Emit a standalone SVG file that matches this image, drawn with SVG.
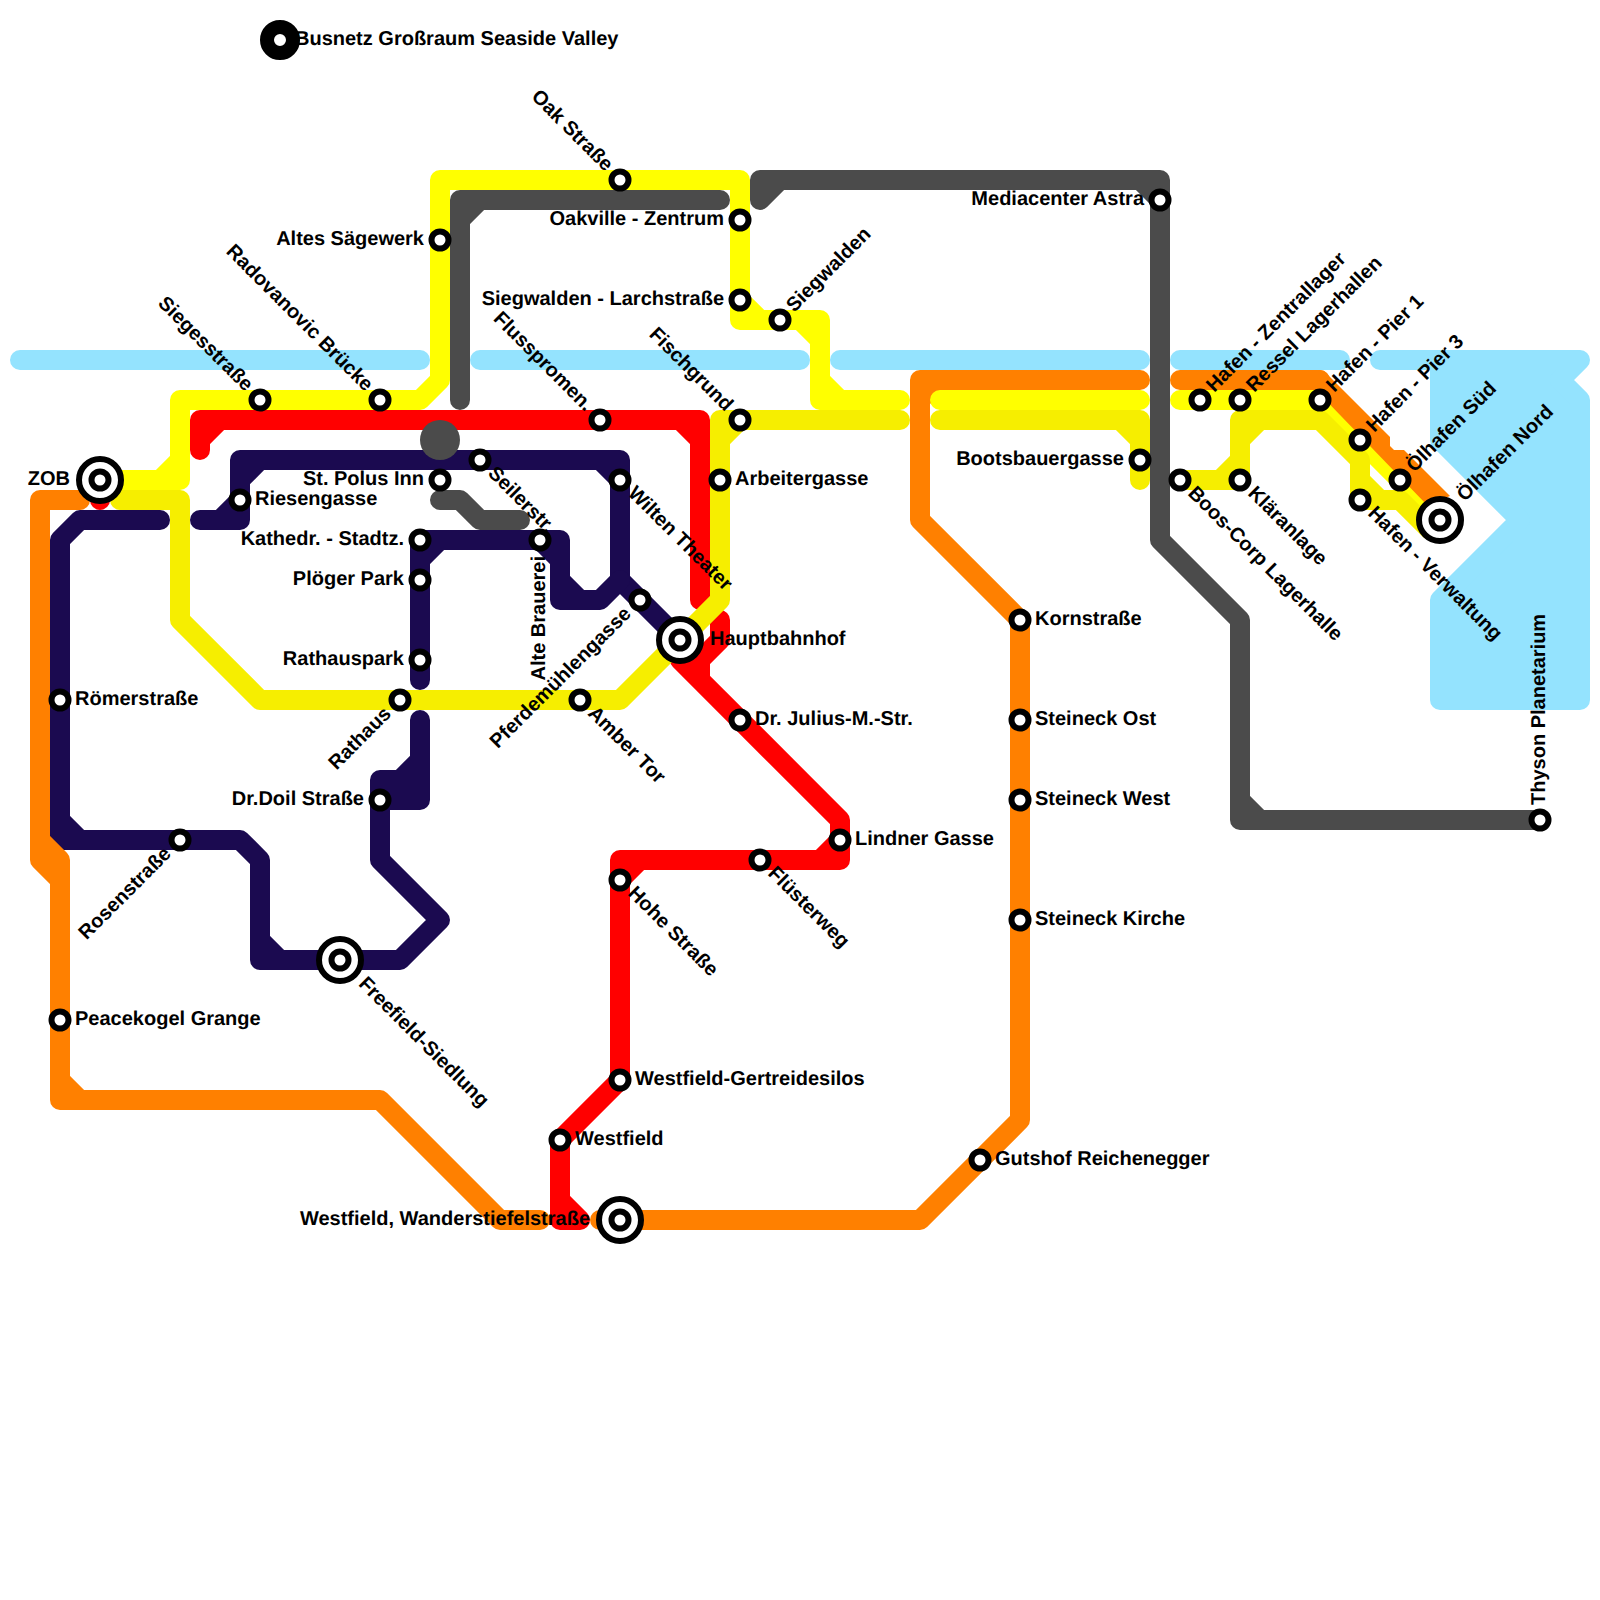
<svg xmlns="http://www.w3.org/2000/svg" width="1600" height="1600" viewBox="0 0 1600 1600">
<style>
.l{fill:none;stroke-width:20;stroke-linecap:round;stroke-linejoin:round}
.w{stroke:#94e3fe}.o{stroke:#ff8000}.r{stroke:#f00}.n{stroke:#1b0a50}.y{stroke:#ff0}.v{stroke:#f6ee00}.g{stroke:#4b4b4b}
.wf{fill:#94e3fe;stroke:#94e3fe;stroke-width:20;stroke-linejoin:round}
.s{fill:#fff;stroke:#000;stroke-width:6}
text{font-family:"Liberation Sans",Arial,sans-serif;font-weight:bold;font-size:20px;fill:#000;text-rendering:geometricPrecision}
.e{text-anchor:end}
</style>
<rect width="1600" height="1600" fill="#fff"/>
<g id="water">
<path class="l w" d="M20 360H420M480 360H800M840 360H1140M1180 360H1340M1380 360H1440"/>
<path class="wf" d="M1440 360H1580L1560 380L1580 400V700H1440V600L1520 520L1440 440Z"/>
</g>
<g id="connectors">
<path class="l r" d="M100 480V500"/>
<path class="l n" d="M160 520H80L60 540V840H240L260 860V960H400L440 920L380 860V780H400L420 760V720V800H380M60 820L80 840M260 940L280 960M400 780H420"/>
<path class="l n" d="M200 520H240V460H620V580L680 640M240 480L260 460M220 520L240 500M600 460L620 480"/>
<path class="l n" d="M420 680V540H560V600H600L620 580M420 560L440 540M540 540L560 560M560 580L580 600"/>
<path class="l o" d="M80 500H40V860L60 880V1100H380L500 1220H540M40 840L60 860V880M60 1080L80 1100"/>
<path class="l o" d="M600 1220H920L1020 1120V620L920 520V380H1140M920 400L940 380"/>
<path class="l o" d="M1180 380H1320"/>
<path class="l r" d="M200 450V420H700V600M200 440L220 420M680 420L700 440"/>
<path class="l r" d="M720 620V640L700 660V680M680 660H700M680 660L840 820V860H620V1080L560 1140V1220H580M820 860L840 840M620 880L640 860M560 1200L580 1220"/>
<path class="l y" d="M100 480H180V400H420L440 380V180H740V320H820V400H900M160 480L180 460M740 300L760 320M800 320L820 340M820 380L840 400"/>
<path class="l y" d="M940 400H1140M1180 400H1320L1440 520"/>
<path fill="#ff8000" d="M1320 370L1324 371L1390 437V446L1394 450H1404L1450 496L1430 504H1426L1313 387Z"/>
<path class="l v" d="M120 500H180V620L260 700H620L720 600V420H900M720 440L740 420"/>
<path class="l v" d="M940 420H1140V480M1120 420L1140 440"/>
<path class="l v" d="M1180 480H1240V420H1320L1360 460V500H1400L1430 530M1220 480L1240 460M1240 440L1260 420M1360 480L1380 500"/>
<path class="l g" d="M460 400V200H720M460 220L480 200"/>
<path class="l g" d="M760 200V180H1160V540L1240 620V820H1540M760 200L780 180M1140 180L1160 200M1240 800L1260 820"/>
<path class="l g" d="M440 500H460L480 520H520"/>
<circle cx="440" cy="440" r="20" fill="#4b4b4b"/>
</g>
<g id="nodes">
<g id="n01"><circle cx="280" cy="40" r="13" fill="#fff" stroke="#000" stroke-width="14"/><text x="295" y="45">Busnetz Großraum Seaside Valley</text></g>
<g id="n02"><circle class="s" cx="100" cy="480" r="21"/><circle class="s" cx="100" cy="480" r="8.5"/><text class="e" x="70" y="485">ZOB</text></g>
<g id="n03"><circle class="s" cx="680" cy="640" r="21"/><circle class="s" cx="680" cy="640" r="8.5"/><text x="710" y="645">Hauptbahnhof</text></g>
<g id="n04"><circle class="s" cx="340" cy="960" r="21"/><circle class="s" cx="340" cy="960" r="8.5"/><text transform="translate(340 960) rotate(45)" x="30" y="5">Freefield-Siedlung</text></g>
<g id="n05"><circle class="s" cx="620" cy="1220" r="21"/><circle class="s" cx="620" cy="1220" r="8.5"/><text class="e" x="590" y="1225">Westfield, Wanderstiefelstraße</text></g>
<g id="n06"><circle class="s" cx="1440" cy="520" r="21"/><circle class="s" cx="1440" cy="520" r="8.5"/><text transform="translate(1440 520) rotate(-45)" x="30" y="5">Ölhafen Nord</text></g>
<g id="n07"><circle class="s" cx="260" cy="400" r="8.5"/><text class="e" transform="translate(260 400) rotate(45)" x="-16" y="5">Siegesstraße</text></g>
<g id="n08"><circle class="s" cx="380" cy="400" r="8.5"/><text class="e" transform="translate(380 400) rotate(45)" x="-16" y="5">Radovanovic Brücke</text></g>
<g id="n09"><circle class="s" cx="440" cy="240" r="8.5"/><text class="e" x="424" y="245">Altes Sägewerk</text></g>
<g id="n10"><circle class="s" cx="620" cy="180" r="8.5"/><text class="e" transform="translate(620 180) rotate(45)" x="-16" y="5">Oak Straße</text></g>
<g id="n11"><circle class="s" cx="740" cy="220" r="8.5"/><text class="e" x="724" y="225">Oakville - Zentrum</text></g>
<g id="n12"><circle class="s" cx="740" cy="300" r="8.5"/><text class="e" x="724" y="305">Siegwalden - Larchstraße</text></g>
<g id="n13"><circle class="s" cx="780" cy="320" r="8.5"/><text transform="translate(780 320) rotate(-45)" x="15" y="5">Siegwalden</text></g>
<g id="n14"><circle class="s" cx="740" cy="420" r="8.5"/><text class="e" transform="translate(740 420) rotate(45)" x="-16" y="5">Fischgrund</text></g>
<g id="n15"><circle class="s" cx="600" cy="420" r="8.5"/><text class="e" transform="translate(600 420) rotate(45)" x="-16" y="5">Flusspromen.</text></g>
<g id="n16"><circle class="s" cx="720" cy="480" r="8.5"/><text x="735" y="485">Arbeitergasse</text></g>
<g id="n17"><circle class="s" cx="440" cy="480" r="8.5"/><text class="e" x="424" y="485">St. Polus Inn</text></g>
<g id="n18"><circle class="s" cx="480" cy="460" r="8.5"/><text transform="translate(480 460) rotate(45)" x="15" y="5">Seilerstr.</text></g>
<g id="n19"><circle class="s" cx="620" cy="480" r="8.5"/><text transform="translate(620 480) rotate(45)" x="15" y="5">Wilten Theater</text></g>
<g id="n20"><circle class="s" cx="240" cy="500" r="8.5"/><text x="255" y="505">Riesengasse</text></g>
<g id="n21"><circle class="s" cx="420" cy="540" r="8.5"/><text class="e" x="404" y="545">Kathedr. - Stadtz.</text></g>
<g id="n22"><circle class="s" cx="420" cy="580" r="8.5"/><text class="e" x="404" y="585">Plöger Park</text></g>
<g id="n23"><circle class="s" cx="420" cy="660" r="8.5"/><text class="e" x="404" y="665">Rathauspark</text></g>
<g id="n24"><circle class="s" cx="400" cy="700" r="8.5"/><text class="e" transform="translate(400 700) rotate(-45)" x="-16" y="5">Rathaus</text></g>
<g id="n25"><circle class="s" cx="540" cy="540" r="8.5"/><text class="e" transform="translate(540 540) rotate(-90)" x="-16" y="5">Alte Brauerei</text></g>
<g id="n26"><circle class="s" cx="640" cy="600" r="8.5"/><text class="e" transform="translate(640 600) rotate(-45)" x="-16" y="5">Pferdemühlengasse</text></g>
<g id="n27"><circle class="s" cx="580" cy="700" r="8.5"/><text transform="translate(580 700) rotate(45)" x="15" y="5">Amber Tor</text></g>
<g id="n28"><circle class="s" cx="740" cy="720" r="8.5"/><text x="755" y="725">Dr. Julius-M.-Str.</text></g>
<g id="n29"><circle class="s" cx="840" cy="840" r="8.5"/><text x="855" y="845">Lindner Gasse</text></g>
<g id="n30"><circle class="s" cx="760" cy="860" r="8.5"/><text transform="translate(760 860) rotate(45)" x="15" y="5">Flüsterweg</text></g>
<g id="n31"><circle class="s" cx="620" cy="880" r="8.5"/><text transform="translate(620 880) rotate(45)" x="15" y="5">Hohe Straße</text></g>
<g id="n32"><circle class="s" cx="620" cy="1080" r="8.5"/><text x="635" y="1085">Westfield-Gertreidesilos</text></g>
<g id="n33"><circle class="s" cx="560" cy="1140" r="8.5"/><text x="575" y="1145">Westfield</text></g>
<g id="n34"><circle class="s" cx="980" cy="1160" r="8.5"/><text x="995" y="1165">Gutshof Reichenegger</text></g>
<g id="n35"><circle class="s" cx="1020" cy="620" r="8.5"/><text x="1035" y="625">Kornstraße</text></g>
<g id="n36"><circle class="s" cx="1020" cy="720" r="8.5"/><text x="1035" y="725">Steineck Ost</text></g>
<g id="n37"><circle class="s" cx="1020" cy="800" r="8.5"/><text x="1035" y="805">Steineck West</text></g>
<g id="n38"><circle class="s" cx="1020" cy="920" r="8.5"/><text x="1035" y="925">Steineck Kirche</text></g>
<g id="n39"><circle class="s" cx="60" cy="700" r="8.5"/><text x="75" y="705">Römerstraße</text></g>
<g id="n40"><circle class="s" cx="180" cy="840" r="8.5"/><text class="e" transform="translate(180 840) rotate(-45)" x="-16" y="5">Rosenstraße</text></g>
<g id="n41"><circle class="s" cx="60" cy="1020" r="8.5"/><text x="75" y="1025">Peacekogel Grange</text></g>
<g id="n42"><circle class="s" cx="380" cy="800" r="8.5"/><text class="e" x="364" y="805">Dr.Doil Straße</text></g>
<g id="n43"><circle class="s" cx="1160" cy="200" r="8.5"/><text class="e" x="1144" y="205">Mediacenter Astra</text></g>
<g id="n44"><circle class="s" cx="1140" cy="460" r="8.5"/><text class="e" x="1124" y="465">Bootsbauergasse</text></g>
<g id="n45"><circle class="s" cx="1180" cy="480" r="8.5"/><text transform="translate(1180 480) rotate(45)" x="15" y="5">Boos-Corp Lagerhalle</text></g>
<g id="n46"><circle class="s" cx="1200" cy="400" r="8.5"/><text transform="translate(1200 400) rotate(-45)" x="15" y="5">Hafen - Zentrallager</text></g>
<g id="n47"><circle class="s" cx="1240" cy="400" r="8.5"/><text transform="translate(1240 400) rotate(-45)" x="15" y="5">Ressel Lagerhallen</text></g>
<g id="n48"><circle class="s" cx="1240" cy="480" r="8.5"/><text transform="translate(1240 480) rotate(45)" x="15" y="5">Kläranlage</text></g>
<g id="n49"><circle class="s" cx="1320" cy="400" r="8.5"/><text transform="translate(1320 400) rotate(-45)" x="15" y="5">Hafen - Pier 1</text></g>
<g id="n50"><circle class="s" cx="1360" cy="440" r="8.5"/><text transform="translate(1360 440) rotate(-45)" x="15" y="5">Hafen - Pier 3</text></g>
<g id="n51"><circle class="s" cx="1400" cy="480" r="8.5"/><text transform="translate(1400 480) rotate(-45)" x="15" y="5">Ölhafen Süd</text></g>
<g id="n52"><circle class="s" cx="1360" cy="500" r="8.5"/><text transform="translate(1360 500) rotate(45)" x="15" y="5">Hafen - Verwaltung</text></g>
<g id="n53"><circle class="s" cx="1540" cy="820" r="8.5"/><text transform="translate(1540 820) rotate(-90)" x="15" y="5">Thyson Planetarium</text></g>
</g>
</svg>
